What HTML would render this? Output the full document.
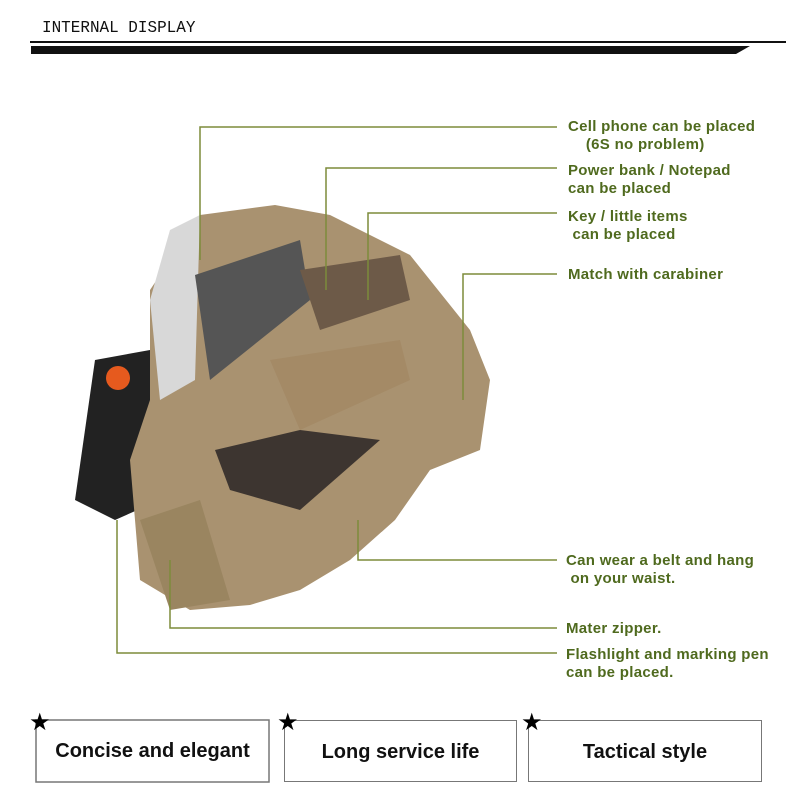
<!DOCTYPE html>
<html><head><style>
body{margin:0;width:800px;height:800px;background:#fff;position:relative;overflow:hidden;font-family:"Liberation Sans",Arial,sans-serif}
.t{position:absolute;color:#4f6a1e;font-weight:bold;font-size:15px;line-height:18px;white-space:nowrap;letter-spacing:0.3px}
.box{position:absolute;top:720px;height:62px;border:1.5px solid #777;box-sizing:border-box;text-align:center;line-height:62px;font-size:20px;font-weight:bold;color:#111}
.star{position:absolute;top:708px;font-size:24px;color:#000}
</style></head><body>
<div style="position:absolute;left:42px;top:19px;font-family:'Liberation Mono',monospace;font-size:17px;color:#111;transform:scaleX(0.94);transform-origin:left">INTERNAL DISPLAY</div>
<svg width="800" height="800" style="position:absolute;left:0;top:0">
<rect x="30" y="41" width="756" height="2" fill="#111"/>
<polygon points="31,46 750,46 736,54 31,54" fill="#111"/>
<polygon points="95,360 150,350 160,500 115,520 75,500" fill="#222"/>
<circle cx="118" cy="378" r="12" fill="#e65a1e"/>
<polygon points="150,290 200,215 275,205 330,215 410,255 470,330 490,380 480,450 430,470 395,520 350,560 300,590 250,605 190,610 140,580 130,460 150,400" fill="#a99270"/>
<polygon points="150,300 170,230 200,215 195,380 160,400" fill="#d8d8d8"/>
<polygon points="195,275 300,240 310,300 210,380" fill="#555"/>
<polygon points="300,270 400,255 410,300 320,330" fill="#6d5a48"/>
<polygon points="270,360 400,340 410,380 300,430" fill="#a48a66"/>
<polygon points="215,450 300,430 380,440 300,510 230,490" fill="#3d3530"/>
<polygon points="140,520 200,500 230,600 170,610" fill="#9a8560"/>
<g stroke="#7d8b3a" stroke-width="1.5" fill="none">
<polyline points="200,260 200,127 557,127"/>
<polyline points="326,290 326,168 557,168"/>
<polyline points="368,300 368,213 557,213"/>
<polyline points="463,400 463,274 557,274"/>
<polyline points="358,520 358,560 557,560"/>
<polyline points="170,560 170,628 557,628"/>
<polyline points="117,520 117,653 557,653"/>
</g>
<rect x="36" y="720" width="233" height="62" fill="none" stroke="#777" stroke-width="1.5"/>
</svg>
<div class="t" style="left:568px;top:118px">Cell phone can be placed<br>&nbsp;&nbsp;&nbsp;&nbsp;(6S no problem)</div>
<div class="t" style="left:568px;top:162px">Power bank / Notepad<br>can be placed</div>
<div class="t" style="left:568px;top:208px">Key / little items<br>&nbsp;can be placed</div>
<div class="t" style="left:568px;top:266px">Match with carabiner</div>
<div class="t" style="left:566px;top:552px">Can wear a belt and hang<br>&nbsp;on your waist.</div>
<div class="t" style="left:566px;top:620px">Mater zipper.</div>
<div class="t" style="left:566px;top:646px">Flashlight and marking pen<br>can be placed.</div>
<div class="box" style="left:284px;width:233px">Long service life</div>
<div class="box" style="left:528px;width:234px">Tactical style</div>
<div class="box" style="left:36px;width:233px;border:none">Concise and elegant</div>
<div class="star" style="left:29px">★</div>
<div class="star" style="left:277px">★</div>
<div class="star" style="left:521px">★</div>
</body></html>
